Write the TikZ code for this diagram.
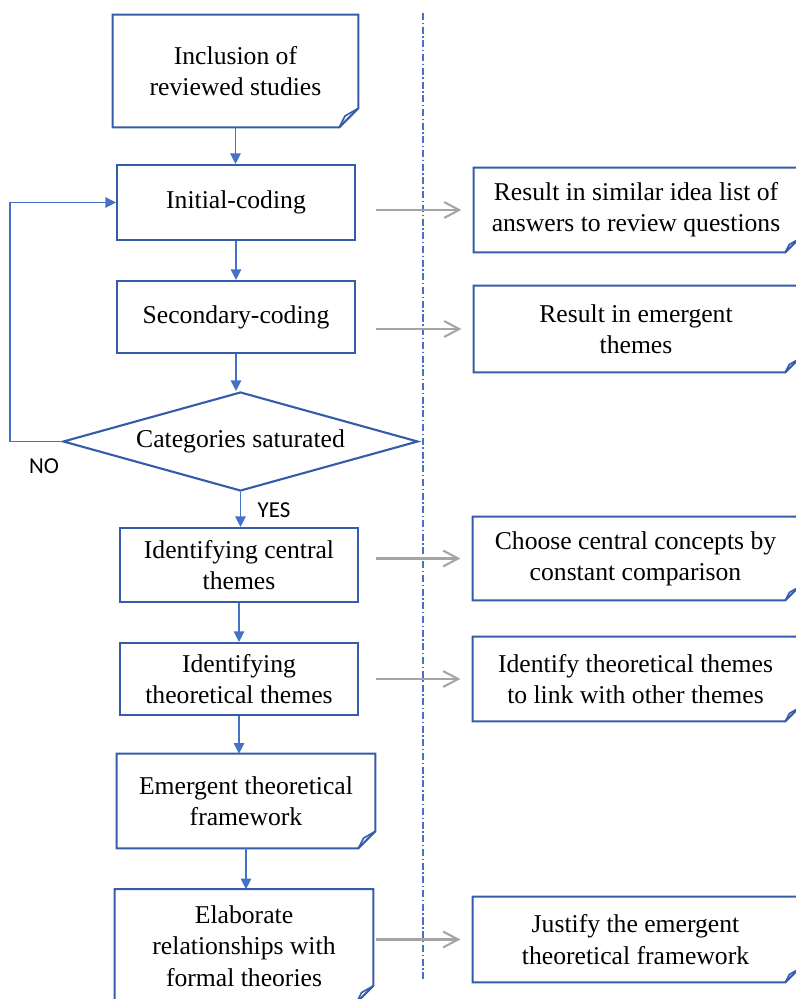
\documentclass[tikz,border=0pt]{standalone}
\usepackage{fontspec}
\setmainfont{Liberation Serif}
\newfontfamily\labelfont{Carlito}
\usetikzlibrary{
  arrows.meta,
  shapes.geometric
}
\definecolor{boxblue}{RGB}{52,92,170}
\definecolor{flowblue}{RGB}{68,114,196}
\definecolor{linkgray}{RGB}{165,165,165}
\tikzset{
  stage/.style    = {rectangle, align=center, inner sep=2pt,
                     font=\fontsize{14.6}{17.8}\selectfont},
  boxed/.style    = {stage, draw=boxblue, line width=1.2pt},
  decide/.style   = {diamond, draw=boxblue, line width=1.2pt, aspect=3.6,
                     inner sep=0pt, align=center,
                     font=\fontsize{14.6}{17.8}\selectfont},
  outline/.style  = {draw=boxblue, line width=1.2pt},
  flow/.style     = {-{Triangle[length=6pt,width=6pt]}, color=flowblue,
                     line width=0.7pt},
  link/.style     = {-{Straight Barb[length=8.5pt,width=9pt]}, color=linkgray,
                     line width=1.2pt, shorten >=7pt},
  divider/.style  = {draw=flowblue, line width=0.6pt,
                     dash pattern=on 4pt off 1.5pt on 0.8pt off 1.5pt},
  answer/.style   = {font=\labelfont\fontsize{13}{15}\selectfont},
}
% outline with a turned-up corner at the bottom right
\newcommand\foldbox[2]{%
  \draw[outline] (#1.north west) -- (#1.north east)
    -- ([shift={(0,-#2)}]#1.south east) -- ([shift={(-#2,0)}]#1.south east)
    -- (#1.south west) -- cycle;
  \draw[outline, line width=0.9pt] ([shift={(0,-#2)}]#1.south east)
    -- ([shift={(-0.7*#2,-0.6*#2)}]#1.south east)
    -- ([shift={(-#2,0)}]#1.south east);}

\begin{document}
\begin{tikzpicture}[x=0.02cm, y=-0.02cm]
\useasboundingbox (0,0) rectangle (795,999);

\draw[divider] (423,13) -- (423,980);

% main column
\node[stage, minimum width=4.9cm, minimum height=2.24cm] (inc) at (235.5,71)
   {Inclusion of\\ reviewed studies};
\foldbox{inc}{19}
\node[boxed, minimum width=4.76cm, minimum height=1.5cm] (init) at (236,202.5)
   {Initial-coding};
\node[boxed, minimum width=4.76cm, minimum height=1.44cm] (sec) at (236,317)
   {Secondary-coding};
\node[decide, minimum width=7.1cm, minimum height=1.98cm] (sat) at (240.5,441.5)
   {Categories saturated};
\node[boxed, minimum width=4.76cm, minimum height=1.48cm] (central) at (239,565)
   {Identifying central\\ themes};
\node[boxed, minimum width=4.76cm, minimum height=1.44cm] (theo) at (239,679)
   {Identifying\\ theoretical themes};
\node[stage, minimum width=5.16cm, minimum height=1.88cm] (emerg) at (246,801)
   {Emergent theoretical\\ framework};
\foldbox{emerg}{17}
\node[stage, minimum width=5.16cm, minimum height=2.26cm] (elab) at (244,946)
   {Elaborate\\ relationships with\\ formal theories};
\foldbox{elab}{17}

\node[answer] (no)  at (44,466)  {NO};
\node[answer] (yes) at (274,510) {YES};

% outcomes
\node[stage, minimum width=6.48cm, minimum height=1.68cm] (res1) at (636,210)
   {Result in similar idea list of\\ answers to review questions};
\foldbox{res1}{13}
\node[stage, minimum width=6.48cm, minimum height=1.72cm] (res2) at (636,329)
   {Result in emergent\\ themes};
\foldbox{res2}{13}
\node[stage, minimum width=6.5cm, minimum height=1.66cm] (choose) at (635.5,558.5)
   {Choose central concepts by\\ constant comparison};
\foldbox{choose}{13}
\node[stage, minimum width=6.5cm, minimum height=1.68cm] (ident) at (635.5,679)
   {Identify theoretical themes\\ to link with other themes};
\foldbox{ident}{13}
\node[stage, minimum width=6.5cm, minimum height=1.7cm] (just) at (635.5,939.5)
   {Justify the emergent\\ theoretical framework};
\foldbox{just}{13}

\draw[flow] (inc) -- (inc |- init.north);
\draw[flow] (init) -- (init |- sec.north);
\draw[flow] (sec) -- (sec |- sat.north);
\draw[flow] (sat) -- (sat |- central.north);
\draw[flow] (central) -- (central |- theo.north);
\draw[flow] (theo) -- (theo |- emerg.north);
\draw[flow] (emerg) -- (emerg |- elab.north);
\draw[flow] (sat.west) -- ++(-52,0) |- (init.west);

\coordinate (gap) at (376,0);
\draw[link] (gap |- res1) -- (res1.west);
\draw[link] (gap |- res2) -- (res2.west);
\draw[link] (gap |- choose) -- (choose.west);
\draw[link] (gap |- ident) -- (ident.west);
\draw[link] (gap |- just) -- (just.west);
\end{tikzpicture}
\end{document}
